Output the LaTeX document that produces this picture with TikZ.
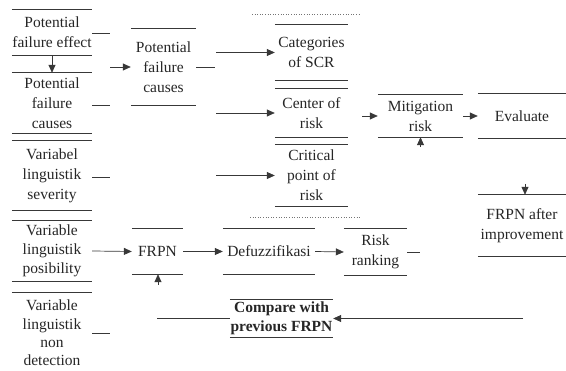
\documentclass[tikz,border=0pt]{standalone}
\usepackage{fontspec}
\setmainfont{Liberation Serif}
\usetikzlibrary{arrows.meta}
\definecolor{ink}{HTML}{262626}
\definecolor{rulec}{HTML}{383838}
\begin{document}
\begin{tikzpicture}[x=1pt,y=-1pt,
  font=\fontsize{15.5}{20}\selectfont, text=ink,
  bx/.style={inner sep=0pt, align=center},
  rule/.style={draw=rulec, line width=0.9pt},
  conn/.style={draw=rulec, line width=0.7pt},
  arr/.style={conn, -{Triangle[length=8pt,width=7pt]}},
  dotl/.style={draw=rulec!70, line width=0.6pt, dotted}]
\useasboundingbox (0,0) rectangle (566,371);
% left column
\node[bx, minimum width=80pt, minimum height=45pt] (pfe)  at (52,32.5) {Potential\\failure effect};
\node[bx, minimum width=80pt, minimum height=60pt] (pfc1) at (52,103)  {Potential\\failure\\causes};
\node[bx, minimum width=80pt, minimum height=69pt] (vls)  at (52,175.5){Variabel\\linguistik\\severity};
\node[bx, minimum width=80pt, minimum height=60pt, font=\fontsize{15.5}{19}\selectfont] (vlp)  at (52,251)  {Variable\\linguistik\\posibility};
\node[bx, minimum width=80pt, minimum height=80pt, font=\fontsize{15.5}{18.4}\selectfont] (vlnd) at (52,333)  {Variable\\linguistik\\non\\detection};
% second column
\node[bx, minimum width=65pt, minimum height=76pt] (pfc2) at (163.5,67) {Potential\\failure\\causes};
% third column
\node[bx, minimum width=73pt, minimum height=55pt] (cat)  at (311.5,52.5) {Categories\\of SCR};
\node[bx, minimum width=73pt, minimum height=48pt] (cen)  at (311.5,113)  {Center of\\risk};
\node[bx, minimum width=73pt, minimum height=61pt] (crit) at (311.5,175.5){Critical\\point of\\risk};
% right part
\node[bx, minimum width=85pt, minimum height=42pt] (mit)  at (420.5,116) {Mitigation\\risk};
\node[bx, minimum width=88pt, minimum height=44pt] (eval) at (522,116)   {Evaluate};
\node[bx, minimum width=88pt, minimum height=61pt] (frpnai) at (522,225.5) {FRPN after\\improvement};
% bottom row
\node[bx, minimum width=51pt, minimum height=45pt] (frpn)  at (157.5,251.5) {FRPN};
\node[bx, minimum width=92pt, minimum height=45pt] (defuz) at (269,251.5)   {Defuzzifikasi};
\node[bx, minimum width=63pt, minimum height=46pt] (rr)    at (375.5,252)   {Risk\\ranking};
\node[bx, minimum width=103pt, minimum height=37pt, font=\fontsize{15.5}{19}\selectfont\bfseries] (cmp) at (281.5,318.5) {Compare with\\previous FRPN};
% top and bottom rules of the boxes
\foreach \n in {pfe,pfc1,vls,vlp,vlnd,pfc2,cat,cen,crit,mit,eval,frpnai,frpn,defuz,rr,cmp}{
  \draw[rule] (\n.north west) -- (\n.north east);
  \draw[rule] (\n.south west) -- (\n.south east);
}
% dotted separators
\coordinate (d1a) at (252,14);  \coordinate (d1b) at (360,14);
\coordinate (d2a) at (250,217); \coordinate (d2b) at (360,217);
\draw[dotl] (d1a) -- (d1b);
\draw[dotl] (d2a) -- (d2b);
% free-end coordinates
\coordinate (s1) at (110,33);
\coordinate (s2) at (110,105);
\coordinate (s3) at (110,177);
\coordinate (s5) at (110,333);
\coordinate (a0) at (110,67);
\coordinate (s6) at (215,67);
\coordinate (b1) at (216,52.5);
\coordinate (b2) at (216,113);
\coordinate (b3) at (216,175.5);
\coordinate (m0) at (362,116);
\coordinate (mu) at (420.5,147);
\coordinate (fd) at (525,184);
\coordinate (fu) at (158,285);
\coordinate (s7) at (420,252);
\coordinate (c1) at (523,318.5);
\coordinate (c2) at (157,318.5);
% connectors
\draw[arr] (pfe.south) -- (pfc1.north);
\draw[conn] (pfe.east |- s1) -- (s1);
\draw[conn] (pfc1.east |- s2) -- (s2);
\draw[conn] (vls.east |- s3) -- (s3);
\draw[conn] (vlnd.east |- s5) -- (s5);
\draw[arr] (a0) -- (pfc2.west);
\draw[conn] (pfc2.east) -- (s6);
\draw[arr] (b1) -- (cat.west);
\draw[arr] (b2) -- (cen.west);
\draw[arr] (b3) -- (crit.west);
\draw[arr] (m0) -- (mit.west);
\draw[arr] (mit.east) -- (eval.west);
\draw[arr] (mu) -- (mit.south);
\draw[arr] (fd) -- (frpnai.north -| fd);
\draw[arr] (vlp.east) -- (frpn.west);
\draw[arr] (frpn.east) -- (defuz.west);
\draw[arr] (defuz.east) -- (rr.west);
\draw[arr] (fu) -- (frpn.south -| fu);
\draw[conn] (rr.east) -- (s7);
\draw[arr] (c1) -- (cmp.east);
\draw[conn] (cmp.west) -- (c2);
\end{tikzpicture}
\end{document}
